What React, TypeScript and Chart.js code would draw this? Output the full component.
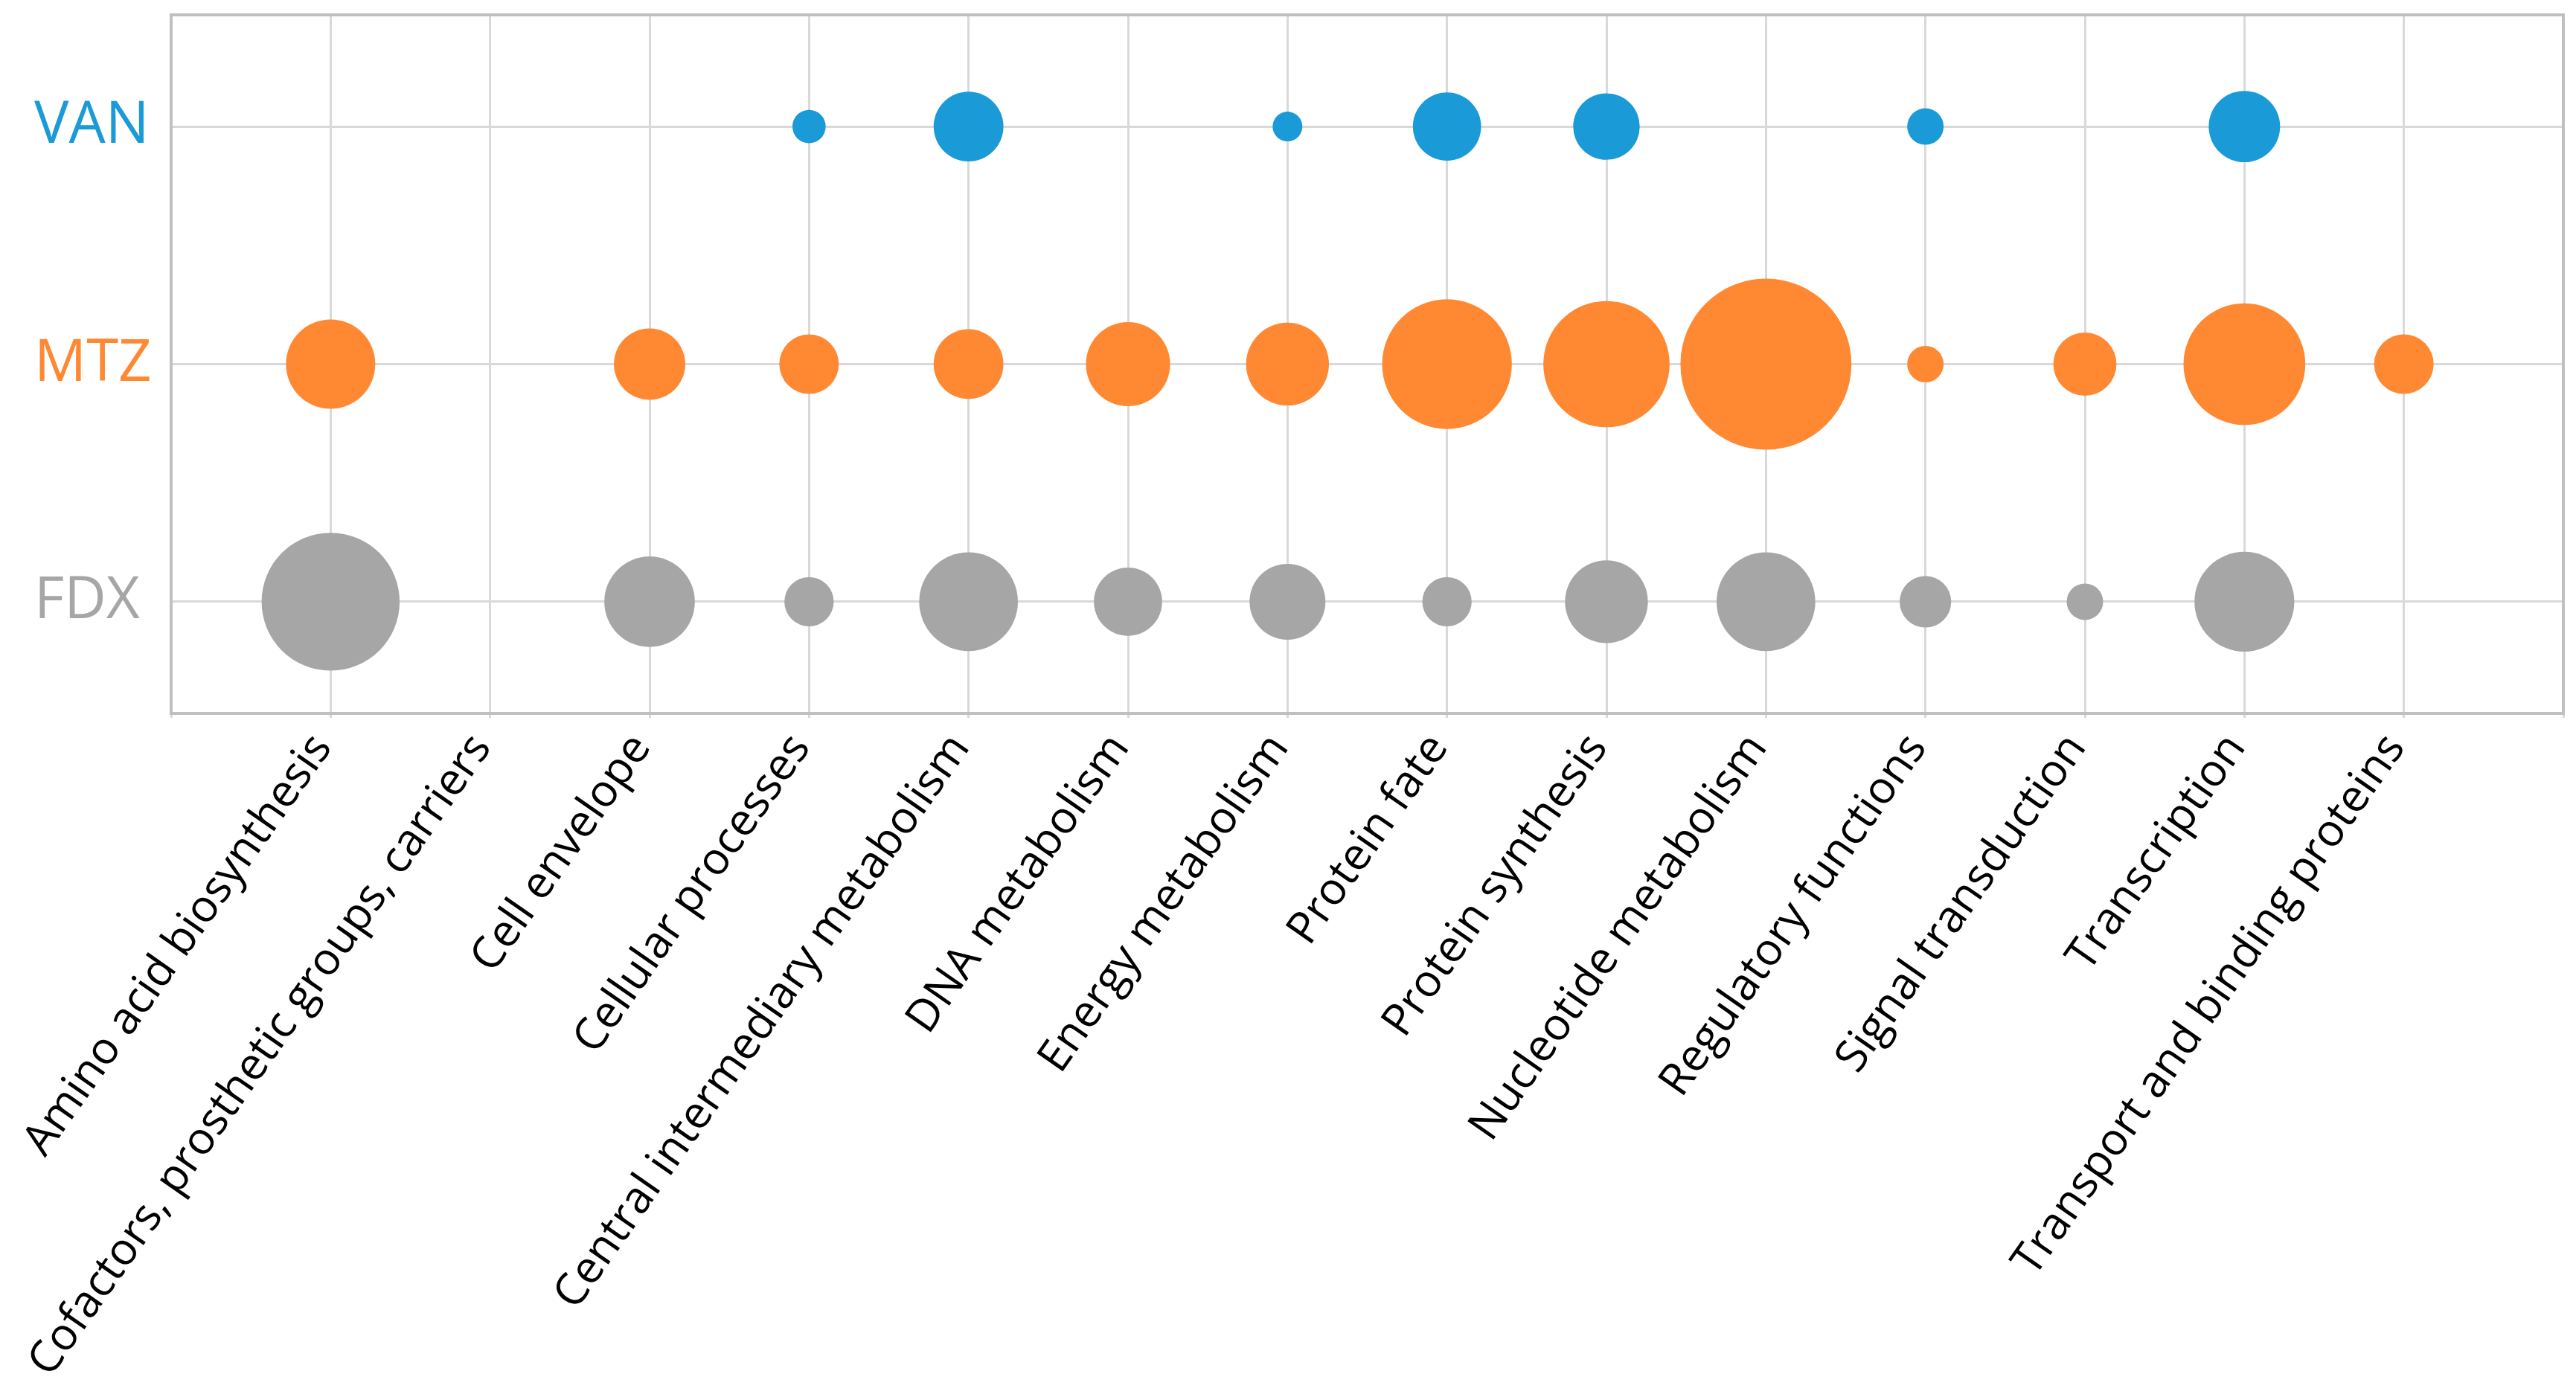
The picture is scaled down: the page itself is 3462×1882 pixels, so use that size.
import React, { useEffect, useRef } from 'react';
import { Chart, registerables } from 'chart.js';

Chart.register(...registerables);

const CATEGORIES = [
  'Amino acid biosynthesis',
  'Cofactors, prosthetic groups, carriers',
  'Cell envelope',
  'Cellular processes',
  'Central intermediary metabolism',
  'DNA metabolism',
  'Energy metabolism',
  'Protein fate',
  'Protein synthesis',
  'Nucleotide metabolism',
  'Regulatory functions',
  'Signal transduction',
  'Transcription',
  'Transport and binding proteins',
];

const Y_TICK_LABELS = ['FDX', 'MTZ', 'VAN'];

// bubble sizes (area units), null = no bubble
const FDX_SIZES = [86, null, 37, 11, 44, 21, 26, 11, 31, 44, 12, 6, 45, null];
const MTZ_SIZES = [36, null, 23, 16, 22, 32, 31, 76, 72, 132, 6, 18, 67, 16];
const VAN_SIZES = [null, null, null, 5, 22, null, 4, 21, 20, null, 6, null, 23, null];

const COLORS: Record<string, string> = {
  VAN: '#1a9ad6',
  MTZ: '#ff8833',
  FDX: '#a6a6a6',
};

const BUBBLE_SCALE = 10;
const GRID = '#d9d9d9';
const BORDER = '#c0c0c0';

function toPoints(sizes: (number | null)[], row: number) {
  const pts: { x: number; y: number; r: number }[] = [];
  sizes.forEach((v, i) => {
    if (v == null) return;
    pts.push({ x: i + 1, y: row, r: BUBBLE_SCALE * Math.sqrt(v) });
  });
  return pts;
}

const framePlugin = {
  id: 'frame',
  afterDraw(chart: any) {
    const { ctx, chartArea } = chart;
    ctx.save();
    ctx.strokeStyle = BORDER;
    ctx.lineWidth = 4;
    ctx.strokeRect(chartArea.left, chartArea.top, chartArea.right - chartArea.left, chartArea.bottom - chartArea.top);
    ctx.restore();
  },
};

function zeroPadding(scale: any) {
  scale.paddingTop = 0;
  scale.paddingBottom = 0;
  scale.paddingLeft = 0;
  scale.paddingRight = 0;
}

export default function App() {
  const ref = useRef<HTMLCanvasElement | null>(null);

  useEffect(() => {
    if (!ref.current) return;
    const chart = new Chart(ref.current, {
      type: 'bubble',
      data: {
        datasets: [
          { label: 'VAN', data: toPoints(VAN_SIZES, 3), backgroundColor: COLORS.VAN, borderWidth: 0 },
          { label: 'MTZ', data: toPoints(MTZ_SIZES, 2), backgroundColor: COLORS.MTZ, borderWidth: 0 },
          { label: 'FDX', data: toPoints(FDX_SIZES, 1), backgroundColor: COLORS.FDX, borderWidth: 0 },
        ],
      },
      plugins: [framePlugin],
      options: {
        animation: false,
        responsive: true,
        maintainAspectRatio: false,
        layout: { autoPadding: false, padding: { top: 20, right: 17, left: 46, bottom: 0 } },
        plugins: {
          legend: { display: false },
          tooltip: { enabled: false },
        },
        elements: { point: { hoverRadius: 0 } },
        scales: {
          x: {
            type: 'linear',
            min: 0,
            max: 15,
            afterBuildTicks: (scale: any) => {
              const t = [];
              for (let i = 0; i <= CATEGORIES.length + 1; i++) t.push({ value: i });
              scale.ticks = t;
            },
            afterFit: (scale: any) => {
              scale.height = 923;
              zeroPadding(scale);
            },
            ticks: {
              autoSkip: false,
              minRotation: 55,
              maxRotation: 55,
              padding: 9,
              labelOffset: -11,
              color: '#000000',
              font: { family: '"Open Sans"', size: 60 },
              callback: (v: any) => {
                const i = Math.round(Number(v));
                return i >= 1 && i <= CATEGORIES.length ? CATEGORIES[i - 1] : '';
              },
            },
            grid: { color: GRID, lineWidth: 3, drawTicks: true, tickLength: 6 },
            border: { display: true, color: BORDER, width: 4 },
          },
          y: {
            type: 'linear',
            min: 0.53,
            max: 3.47,
            afterBuildTicks: (scale: any) => {
              scale.ticks = Y_TICK_LABELS.map((_, i) => ({ value: i + 1 }));
            },
            afterFit: (scale: any) => {
              scale.width = 184;
              zeroPadding(scale);
            },
            ticks: {
              padding: 20,
              crossAlign: 'far',
              font: { family: '"Open Sans"', size: 78 },
              color: (ctx: any) => {
                const name = Y_TICK_LABELS[Math.round(ctx.tick.value) - 1];
                return COLORS[name] || '#000';
              },
              callback: (v: any) => Y_TICK_LABELS[Math.round(Number(v)) - 1] || '',
            },
            grid: { color: GRID, lineWidth: 3, drawTicks: false },
            border: { display: true, color: BORDER, width: 4 },
          },
        },
      },
    } as any);
    return () => chart.destroy();
  }, []);

  return (
    <div style={{ position: 'fixed', left: 0, top: 0, width: '3462px', height: '1882px', background: '#ffffff' }}>
      <canvas ref={ref} />
    </div>
  );
}
